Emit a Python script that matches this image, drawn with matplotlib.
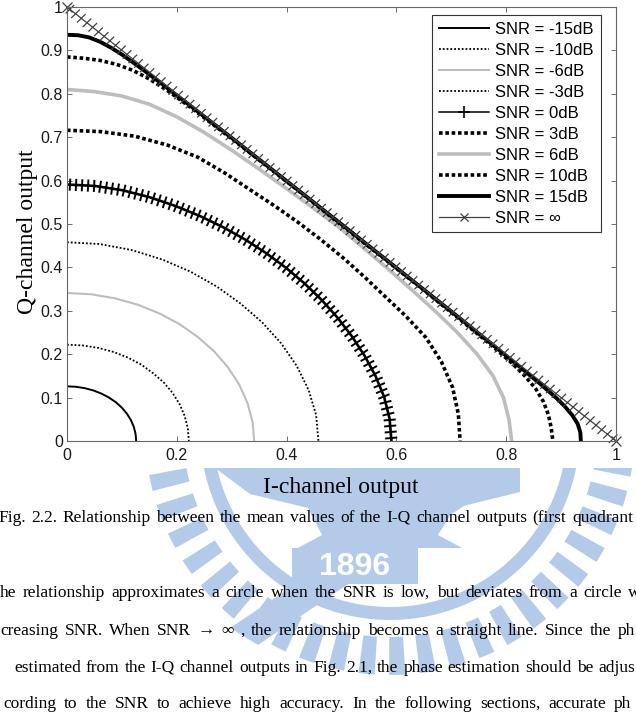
import matplotlib
matplotlib.use('Agg')
import matplotlib.pyplot as plt
import matplotlib.patheffects as pe
from matplotlib.lines import Line2D
from matplotlib.patches import Polygon, Rectangle, Wedge

W, H = 636, 715

# mean I / Q channel outputs. Each curve is symmetric
# about I = Q, so only the half from the Q axis to the diagonal is listed.
i_m15 = [0, 0.0164, 0.0326, 0.0482, 0.063, 0.0767, 0.0891]
q_m15 = [0.126, 0.1249, 0.1217, 0.1164, 0.1091, 0.1000, 0.0891]
i_m10 = [0, 0.029, 0.0575, 0.085, 0.111, 0.1351, 0.1565]
q_m10 = [0.222, 0.2201, 0.2144, 0.2051, 0.1922, 0.1761, 0.1565]
i_m6 = [0, 0.0445, 0.0880, 0.1299, 0.1694, 0.2060, 0.2390]
q_m6 = [0.341, 0.3380, 0.3286, 0.3137, 0.2934, 0.2684, 0.2390]
i_m3 = [0, 0.0597, 0.1179, 0.1733, 0.2252, 0.2730, 0.3164]
q_m3 = [0.458, 0.4538, 0.4400, 0.4183, 0.3900, 0.3558, 0.3164]
i_0 = [0, 0.0514, 0.1018, 0.1505, 0.1972, 0.2418, 0.2844, 0.3249, 0.3631, 0.3990]
q_0 = [0.591, 0.5876, 0.5776, 0.5617, 0.5417, 0.5186, 0.4926, 0.4640, 0.4326, 0.3990]
i_3 = [0, 0.0624, 0.1238, 0.1827, 0.2380, 0.2878, 0.334, 0.3789, 0.4220, 0.4632]
q_3 = [0.716, 0.7128, 0.7022, 0.6819, 0.6540, 0.6172, 0.5785, 0.5411, 0.5029, 0.4632]
i_6 = [0, 0.05, 0.10, 0.15, 0.20, 0.25, 0.30, 0.35, 0.40, 0.45, 0.494]
q_6 = [0.810, 0.805, 0.795, 0.776, 0.747, 0.711, 0.670, 0.6265, 0.5815, 0.5355, 0.494]
i_10 = [0, 0.03, 0.06, 0.09, 0.12, 0.15, 0.18, 0.22, 0.27, 0.33, 0.41, 0.4985]
q_10 = [0.885, 0.882, 0.877, 0.868, 0.854, 0.834, 0.810, 0.7735, 0.7255, 0.667, 0.588, 0.4985]
i_15 = [0, 0.02, 0.04, 0.06, 0.08, 0.10, 0.13, 0.17, 0.22, 0.30, 0.40, 0.4997]
q_15 = [0.936, 0.935, 0.930, 0.920, 0.9065, 0.8905, 0.8635, 0.8255, 0.777, 0.6985, 0.599, 0.4997]

# SNR -> infinity : straight line
inf_i = [0.0, 1.0]
inf_q = [1.0, 0.0]

labels = ['SNR = -15dB', 'SNR = -10dB', 'SNR = -6dB', 'SNR = -3dB', 'SNR = 0dB',
          'SNR = 3dB', 'SNR = 6dB', 'SNR = 10dB', 'SNR = 15dB', 'SNR = \u221e']

x_ticks = [0, 0.2, 0.4, 0.6, 0.8, 1]
x_ticklabels = ['0', '0.2', '0.4', '0.6', '0.8', '1']
y_ticks = [0, 0.1, 0.2, 0.3, 0.4, 0.5, 0.6, 0.7, 0.8, 0.9, 1]
y_ticklabels = ['0', '0.1', '0.2', '0.3', '0.4', '0.5', '0.6', '0.7', '0.8', '0.9', '1']

caption = 'Fig. 2.2. Relationship between the mean values of the I-Q channel outputs (first quadrant'
body_lines = [
    'he relationship approximates a circle when the SNR is low, but deviates from a circle w',
    'creasing SNR. When SNR \u2192 \u221e , the relationship becomes a straight line. Since the ph',
    'estimated from the I-Q channel outputs in Fig. 2.1, the phase estimation should be adjus',
    'cording to the SNR to achieve high accuracy. In the following sections, accurate ph',
]

SANS = ['Liberation Sans', 'DejaVu Sans']
SERIF = ['Liberation Serif', 'DejaVu Serif']
GRAY = '#bdbdbd'
WM = '#b3cbe9'

fig = plt.figure(figsize=(W / 100, H / 100), dpi=100)
fig.patch.set_facecolor('white')

# ---- watermark of the page ----
bg = fig.add_axes([0, 0, 1, 1], zorder=0)
bg.set_xlim(0, W)
bg.set_ylim(H, 0)
bg.axis('off')
clip = Rectangle((0, 468), W, H, transform=bg.transData)
cx, cy = 390, 430
wm_patches = []
for k in range(50):
    a0 = k * 7.2
    wm_patches.append(Wedge((cx, cy), 245, a0, a0 + 3.8, width=38, color=WM, lw=0))
wm_patches.append(Wedge((cx, cy), 190, 0, 360, width=13, color=WM, lw=0))
wm_patches.append(Polygon([(215, 468), (520, 468), (520, 492), (455, 508), (438, 535), (462, 548),
                           (298, 548), (322, 535), (308, 508), (250, 494)], color=WM, lw=0))
wm_patches.append(Polygon([(230, 628), (258, 645), (505, 478), (478, 462)], color=WM, lw=0))
wm_patches.append(Rectangle((292, 548), 126, 36, color=WM, lw=0))
for p in wm_patches:
    bg.add_patch(p)
    p.set_clip_path(clip)
bg.text(355, 567, '1896', color='white', fontsize=23, fontweight='bold', family=SANS,
        ha='center', va='center')

# ---- chart ----
ax = fig.add_axes([67 / W, 1 - 441 / H, 549 / W, 434 / H], zorder=1)
ax.set_facecolor('white')

curves = [(i_m15, q_m15), (i_m10, q_m10), (i_m6, q_m6), (i_m3, q_m3), (i_0, q_0),
          (i_3, q_3), (i_6, q_6), (i_10, q_10), (i_15, q_15)]
styles = [
    dict(color='black', lw=1.4),
    dict(color='black', lw=1.3, dashes=(1, 1.1)),
    dict(color=GRAY, lw=1.5),
    dict(color='black', lw=1.3, dashes=(1, 1.1)),
    dict(color='black', lw=1.9),
    dict(color='black', lw=2.6, dashes=(1, 0.75)),
    dict(color=GRAY, lw=2.6),
    dict(color='black', lw=2.6, dashes=(1, 0.75)),
    dict(color='black', lw=2.8),
]

for k, ((hi, hq), st) in enumerate(zip(curves, styles)):
    # upper half, then the mirrored lower half
    ii = hi + hq[-2::-1]
    qq = hq + hi[-2::-1]
    line, = ax.plot(ii, qq, **st)
    if k == 4:  # '+' markers along the 0dB curve
        line.set_path_effects([
            pe.TickedStroke(angle=90, spacing=4.3, length=0.85, linewidth=1.4),
            pe.TickedStroke(angle=-90, spacing=4.3, length=0.85, linewidth=1.4),
            pe.Normal()])

ax.plot(inf_i, inf_q, color='#404040', lw=0.9, clip_on=False, path_effects=[
    pe.TickedStroke(angle=83, spacing=5.2, length=0.75, linewidth=0.9),
    pe.TickedStroke(angle=-97, spacing=5.2, length=0.75, linewidth=0.9),
    pe.Normal()])
ax.plot(inf_i, inf_q, ls='none', marker='x', ms=7, mew=0.9, color='#404040', clip_on=False)

ax.set_xlim(0, 1)
ax.set_ylim(0, 1)
ax.set_xticks(x_ticks)
ax.set_xticklabels(x_ticklabels)
ax.set_yticks(y_ticks)
ax.set_yticklabels(y_ticklabels)
ax.tick_params(direction='in', top=True, right=True, length=3.6, width=0.6,
               color='#555555', labelsize=11.5, labelcolor='#1a1a1a')
ax.tick_params(axis='x', pad=5)
ax.tick_params(axis='y', pad=3)
for lab in ax.get_xticklabels() + ax.get_yticklabels():
    lab.set_family(SANS)
for s in ax.spines.values():
    s.set_color('#666666')
    s.set_linewidth(0.8)

handles = [Line2D([], [], **st) for st in styles]
handles[4] = Line2D([], [], color='black', lw=1.1, marker='+', ms=9, mew=1.2)
handles.append(Line2D([], [], color='#404040', lw=0.9, marker='x', ms=6, mew=0.9))
leg = ax.legend(handles, labels, loc='upper right', bbox_to_anchor=(0.972, 0.9816),
                borderaxespad=0, fancybox=False, framealpha=1, edgecolor='#333333',
                handlelength=3.0, handletextpad=0.4, labelspacing=0.36, borderpad=0.4,
                prop={'family': SANS, 'size': 12})
leg.get_frame().set_linewidth(0.8)

fig.text(341 / W, 1 - 488 / H, 'I-channel output', family=SERIF, fontsize=17,
         ha='center', va='center', zorder=3)
fig.text(28 / W, 1 - 232 / H, 'Q-channel output', family=SERIF, fontsize=17,
         rotation=90, ha='center', va='center', zorder=3)

# ---- caption and body text, justified between given pixel positions ----
renderer = fig.canvas.get_renderer()


def justify(text, y_px, x_first, x_last, size=12.5):
    words = text.split()
    objs = [fig.text(0, 0, w, family=SERIF, fontsize=size, va='center', zorder=3) for w in words]
    widths = [t.get_window_extent(renderer=renderer).width for t in objs]
    gap = (x_last - x_first - sum(widths[:-1])) / (len(words) - 1)
    x = x_first
    for t, w in zip(objs, widths):
        t.set_position((x / W, 1 - y_px / H))
        x += w + gap


justify(caption, 518, -2, 572)
justify(body_lines[0], 593, 0, 628)
justify(body_lines[1], 631, 0, 618)
justify(body_lines[2], 668, 14, 598)
justify(body_lines[3], 704, 3, 614)

fig.savefig('out.png', dpi=100, facecolor='white')
